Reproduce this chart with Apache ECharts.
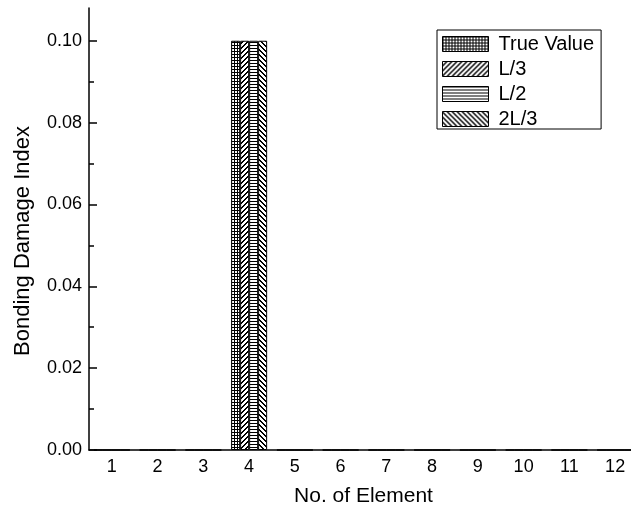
<!DOCTYPE html>
<html>
<head>
<meta charset="utf-8">
<script src="https://cdn.jsdelivr.net/npm/echarts@6/dist/echarts.min.js"></script>
<style>html,body{margin:0;padding:0;background:#fff;overflow:hidden;}#c{width:638px;height:516px;}</style>
</head>
<body>
<div id="c"></div>
<script>
var categories = ['1','2','3','4','5','6','7','8','9','10','11','12'];
var seriesNames = ['True Value','L/3','L/2','2L/3'];
var trueValue = [0,0,0,0.1,0,0,0,0,0,0,0,0];
var lThird    = [0,0,0,0.1,0,0,0,0,0,0,0,0];
var lHalf     = [0,0,0,0.1,0,0,0,0,0,0,0,0];
var twoLThird = [0,0,0,0.1,0,0,0,0,0,0,0,0];
var yMajorTicks = [0,0.02,0.04,0.06,0.08,0.10];
var yMinorTicks = [0.01,0.03,0.05,0.07,0.09];

function makePattern(type){
  var n = type==='grid'||type==='hline' ? 3 : 5;
  var cv = document.createElement('canvas');
  cv.width = n; cv.height = n;
  var ctx = cv.getContext('2d');
  ctx.fillStyle = '#fff'; ctx.fillRect(0,0,n,n);
  ctx.fillStyle = '#000';
  if(type==='grid'){ ctx.fillRect(0,0,n,1); ctx.fillRect(0,0,1,n); }
  else if(type==='hline'){ ctx.fillRect(0,0,n,1); }
  else if(type==='fwd'){ for(var i=0;i<n;i++){ ctx.fillRect(i,n-1-i,1,1); ctx.fillRect(i,(2*n-2-i)%n,1,1);} }
  else if(type==='back'){ for(var j=0;j<n;j++){ ctx.fillRect(j,j,1,1); ctx.fillRect(j,(j+1)%n,1,1);} }
  return {image: cv, repeat: 'repeat'};
}
var patterns = [makePattern('grid'), makePattern('fwd'), makePattern('hline'), makePattern('back')];
var dataArr = [trueValue, lThird, lHalf, twoLThird];

var font = 'Liberation Sans, Arial, sans-serif';
var chart = echarts.init(document.getElementById('c'));
var series = seriesNames.map(function(nm, i){
  return {
    name: nm, type: 'bar', data: dataArr[i], barWidth: 9, barGap: '0%',
    itemStyle: {color: patterns[i], borderColor: '#000', borderWidth: 1},
    emphasis: {disabled: true}, animation: false
  };
});
chart.setOption({
  animation: false,
  grid: {left: 89, top: 8, height: 442, width: 549},
  legend: {
    data: seriesNames, orient: 'vertical', left: 437, top: 30,
    itemWidth: 46, itemHeight: 15, itemGap: 5, icon: 'rect',
    padding: [4, 7, 0, 5],
    borderColor: '#000', borderWidth: 1,
    textStyle: {fontFamily: font, fontSize: 20, color: '#000', padding: [0,0,0,5]},
    itemStyle: {borderColor: '#000', borderWidth: 1}
  },
  xAxis: {
    type: 'category', data: categories,
    axisLine: {lineStyle: {color: '#000', width: 1.5}},
    axisTick: {alignWithLabel: true, length: 3, lineStyle: {color: '#000'}},
    axisLabel: {fontFamily: font, fontSize: 18, color: '#000', margin: 8},
    name: 'No. of Element', nameLocation: 'middle', nameGap: 36,
    nameTextStyle: {fontFamily: font, fontSize: 21, color: '#000'}
  },
  yAxis: [{
    type: 'value', min: 0, max: 0.108,
    axisLine: {show: true, lineStyle: {color: '#000', width: 1.5}},
    axisTick: {show: true, inside: true, length: 8, customValues: yMajorTicks, lineStyle: {color: '#000', width: 1.5}},
    axisLabel: {fontFamily: font, fontSize: 18, color: '#000', margin: 7, customValues: yMajorTicks,
      formatter: function(v){ return v.toFixed(2); }},
    splitLine: {show: false},
    name: 'Bonding Damage Index', nameLocation: 'middle', nameGap: 55,
    nameTextStyle: {fontFamily: font, fontSize: 22, color: '#000', padding: [0, 24, 0, 0]}
  },{
    type: 'value', min: 0, max: 0.108, position: 'left', offset: 0,
    axisLine: {show: false},
    axisTick: {show: true, inside: true, length: 5, customValues: yMinorTicks, lineStyle: {color: '#000', width: 1.5}},
    axisLabel: {show: false},
    splitLine: {show: false}
  }],
  series: series
});
</script>
</body>
</html>
